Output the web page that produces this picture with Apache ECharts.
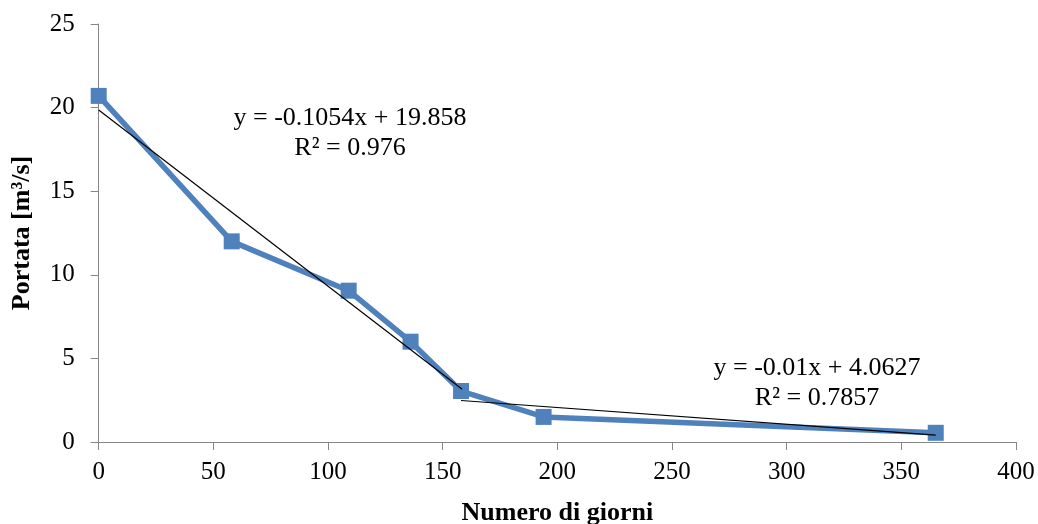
<!DOCTYPE html>
<html><head><meta charset="utf-8">
<script src="https://cdn.jsdelivr.net/npm/echarts@6/dist/echarts.min.js"></script>
<style>html,body{margin:0;padding:0;background:#fff}#c{width:1038px;height:524px}</style>
</head><body><div id="c"></div>
<script>
const days = [0, 58, 109, 136, 158, 194, 365];
const flow = [20.7, 12.0, 9.05, 6.0, 3.05, 1.5, 0.55];
const trend1 = { slope: -0.1054, intercept: 19.858, from: 0, to: 158.5 };
const trend2 = { slope: -0.01, intercept: 4.0627, from: 158, to: 365 };
const label1 = ['y = -0.1054x + 19.858', 'R² = 0.976'];
const label2 = ['y = -0.01x + 4.0627', 'R² = 0.7857'];

const font = '"Liberation Serif","Times New Roman",serif';
function tl(t){ return [[t.from, t.slope*t.from + t.intercept],[t.to, t.slope*t.to + t.intercept]]; }

const chart = echarts.init(document.getElementById('c'));
chart.setOption({
  animation: false,
  grid: { left: 98.7, right: 22, top: 24, bottom: 82, outerBoundsMode: 'none', containLabel: false },
  xAxis: {
    type: 'value', min: 0, max: 400, interval: 50,
    name: 'Numero di giorni', nameLocation: 'middle', nameGap: 58,
    nameTextStyle: { fontFamily: font, fontWeight: 'bold', fontSize: 26, color: '#000' },
    axisLine: { lineStyle: { color: '#868686', width: 1 } },
    axisTick: { show: true, length: 8, lineStyle: { color: '#868686' } },
    axisLabel: { fontFamily: font, fontSize: 25, color: '#000', margin: 18 },
    splitLine: { show: false }
  },
  yAxis: {
    type: 'value', min: 0, max: 25, interval: 5,
    name: 'Portata [m³/s]', nameLocation: 'middle', nameGap: 63, nameRotate: 90,
    nameTextStyle: { fontFamily: font, fontWeight: 'bold', fontSize: 26, color: '#000' },
    axisLine: { show: true, lineStyle: { color: '#868686', width: 1 } },
    axisTick: { show: true, length: 8, lineStyle: { color: '#868686' } },
    axisLabel: { fontFamily: font, fontSize: 25, color: '#000', margin: 24 },
    splitLine: { show: false }
  },
  series: [
    { type: 'line', data: days.map((d,i)=>[d, flow[i]]), symbol: 'rect', symbolSize: 16,
      lineStyle: { color: '#4F81BD', width: 5.5 }, itemStyle: { color: '#4F81BD' }, z: 2 },
    { type: 'line', data: tl(trend1), symbol: 'none', lineStyle: { color: '#000', width: 1.2 }, z: 3 },
    { type: 'line', data: tl(trend2), symbol: 'none', lineStyle: { color: '#000', width: 1.2 }, z: 3 }
  ],
  graphic: [
    { type: 'text', x: 350, y: 103, style: { text: label1.join('\n'), font: '26px ' + font, fill: '#000', align: 'center', lineHeight: 30 } },
    { type: 'text', x: 817, y: 353, style: { text: label2.join('\n'), font: '26px ' + font, fill: '#000', align: 'center', lineHeight: 30 } }
  ]
});
</script></body></html>
